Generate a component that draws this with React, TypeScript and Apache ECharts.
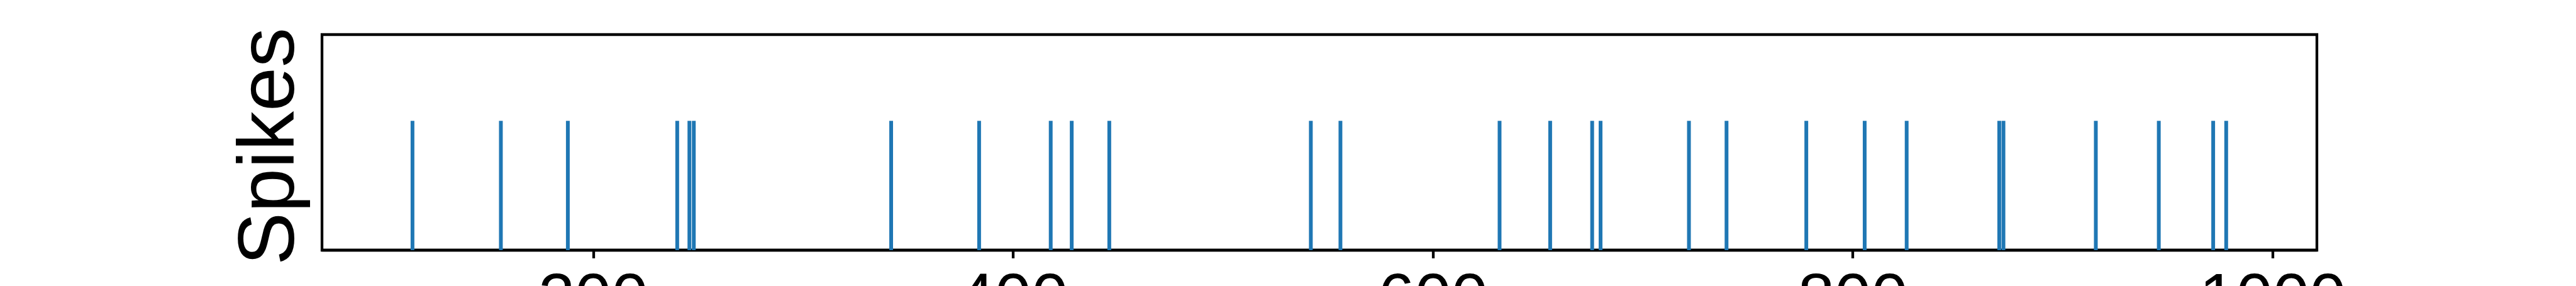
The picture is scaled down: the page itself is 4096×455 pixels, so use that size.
import React, { useEffect, useRef } from "react";
import * as echarts from "echarts";

// Spike times (x values)
const spikeTimes = [
  113.9, 156.0, 187.9, 240.0, 245.8, 247.9, 341.9, 383.8, 417.9, 427.9,
  445.8, 541.8, 555.9, 631.7, 655.8, 675.8, 679.8, 721.9, 739.8, 777.8,
  805.6, 825.6, 869.7, 871.7, 915.7, 945.7, 971.6, 977.8,
];
const spikeHeight = 1;
const xTickValues = [200, 400, 600, 800, 1000];
const xMin = 70.8;
const xMax = 1021.0;
const yMin = 0;
const yMax = 1.6667;
const yLabel = "Spikes";

const FONT = "'Liberation Sans', Arial, Helvetica, sans-serif";

export default function App() {
  const ref = useRef<HTMLDivElement>(null);
  useEffect(() => {
    if (!ref.current) return;
    const chart = echarts.init(ref.current, undefined, { renderer: "svg" });
    const data = spikeTimes.map((t) => [t, spikeHeight]);
    chart.setOption({
      animation: false,
      backgroundColor: "#ffffff",
      grid: {
        left: 512,
        right: 4096 - 3684,
        top: 55,
        bottom: 455 - 398,
        show: true,
        borderColor: "#000000",
        borderWidth: 4.3,
        backgroundColor: "transparent",
        containLabel: false,
        outerBoundsMode: "none",
      },
      xAxis: {
        type: "value",
        min: xMin,
        max: xMax,
        axisLine: { show: true, lineStyle: { color: "#000000", width: 4.3 } },
        axisTick: {
          show: true,
          customValues: xTickValues,
          length: 13,
          lineStyle: { color: "#000000", width: 4.3 },
        },
        axisLabel: {
          show: true,
          customValues: xTickValues,
          formatter: (v: number) => String(v),
          color: "#000000",
          fontFamily: FONT,
          fontSize: 105,
          margin: 22,
        },
        splitLine: { show: false },
      },
      yAxis: {
        type: "value",
        min: yMin,
        max: yMax,
        axisLine: { show: false },
        axisTick: { show: false },
        axisLabel: { show: false },
        splitLine: { show: false },
      },
      graphic: [
        {
          type: "text",
          x: 423,
          y: 233,
          rotation: Math.PI / 2,
          style: {
            text: yLabel,
            fill: "#000000",
            font: `126px ${FONT}`,
            textAlign: "center",
            textVerticalAlign: "middle",
          },
        },
      ],
      series: [
        {
          type: "custom",
          data,
          renderItem: (params: any, api: any) => {
            const x = api.value(0);
            const y = api.value(1);
            const p0 = api.coord([x, 0]);
            const p1 = api.coord([x, y]);
            return {
              type: "line",
              shape: { x1: p0[0], y1: p0[1], x2: p1[0], y2: p1[1] },
              style: { stroke: "#1f77b4", lineWidth: 6 },
            };
          },
        },
      ],
    });
    return () => chart.dispose();
  }, []);
  return (
    <div
      ref={ref}
      style={{ position: "fixed", left: 0, top: 0, width: 4096, height: 455 }}
    />
  );
}
